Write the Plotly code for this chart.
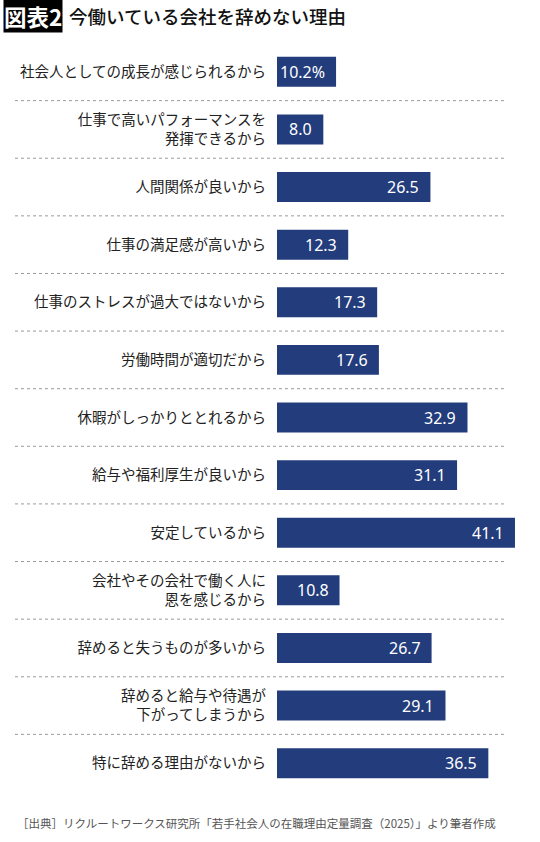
import plotly.graph_objects as go

categories = [
    "社会人としての成長が感じられるから",
    "仕事で高いパフォーマンスを<br>発揮できるから",
    "人間関係が良いから",
    "仕事の満足感が高いから",
    "仕事のストレスが過大ではないから",
    "労働時間が適切だから",
    "休暇がしっかりととれるから",
    "給与や福利厚生が良いから",
    "安定しているから",
    "会社やその会社で働く人に<br>恩を感じるから",
    "辞めると失うものが多いから",
    "辞めると給与や待遇が<br>下がってしまうから",
    "特に辞める理由がないから",
]
values = [10.2, 8.0, 26.5, 12.3, 17.3, 17.6, 32.9, 31.1, 41.1, 10.8, 26.7, 29.1, 36.5]
value_labels = ["10.2%"] + [f"{v:.1f}" for v in values[1:]]

title_tag = "図表2"
title_text = "今働いている会社を辞めない理由"
source_text = "［出典］リクルートワークス研究所「若手社会人の在職理由定量調査（2025）」より筆者作成"

FONT = "Noto Sans CJK JP"
BAR = "#223c7c"
W, H = 540, 842
T, B, L = 43, 50, 277
PW, PH = W - L, H - T - B
n = len(categories)
ypos = list(range(n))


def px(x):
    return (x - L) / PW


def py(y):
    return 1 - (y - T) / PH


fig = go.Figure()
fig.add_trace(go.Bar(
    x=values, y=ypos, orientation="h",
    marker=dict(color=BAR, line=dict(width=0)),
    width=0.52, hoverinfo="skip",
))

for i, (v, t) in enumerate(zip(values, value_labels)):
    fig.add_annotation(x=v, y=i, xref="x", yref="y", text=t, showarrow=False,
                       xanchor="right", xshift=-9,
                       font=dict(family="Noto Sans", size=16, color="white"))

for i in range(n - 1):
    fig.add_shape(type="line", xref="paper", yref="y",
                  x0=px(15), x1=px(505), y0=i + 0.5, y1=i + 0.5,
                  line=dict(color="#9a9a9a", width=1, dash="dot"))

fig.add_annotation(x=px(3), y=py(-1), xref="paper", yref="paper", text=f"<b>{title_tag}</b>",
                   showarrow=False, xanchor="left", yanchor="top", bgcolor="black",
                   font=dict(family=FONT, size=22.5, color="white"), borderpad=0)
fig.add_annotation(x=px(67), y=py(1), xref="paper", yref="paper",
                   text=title_text, showarrow=False,
                   xanchor="left", yanchor="top",
                   font=dict(family="Noto Sans CJK JP Medium, Noto Sans CJK JP", size=18.5, color="#111"))
fig.add_annotation(x=px(15), y=py(823), xref="paper", yref="paper",
                   text=source_text, showarrow=False, xanchor="left", yanchor="middle",
                   font=dict(family=FONT, size=11.5, color="#555"))

fig.update_layout(
    width=W, height=H,
    margin=dict(l=L, r=0, t=T, b=B),
    paper_bgcolor="white", plot_bgcolor="white",
    showlegend=False,
    font=dict(family=FONT, color="#222"),
    xaxis=dict(range=[0, PW / 5.79], showgrid=False, zeroline=False,
               showticklabels=False, fixedrange=True),
    yaxis=dict(range=[n - 0.5, -0.5], tickvals=ypos, ticktext=categories,
               showgrid=False, zeroline=False, ticks="", ticklabelstandoff=10,
               tickfont=dict(family=FONT, size=14.5, color="#222")),
)

fig.write_html("out.html")
